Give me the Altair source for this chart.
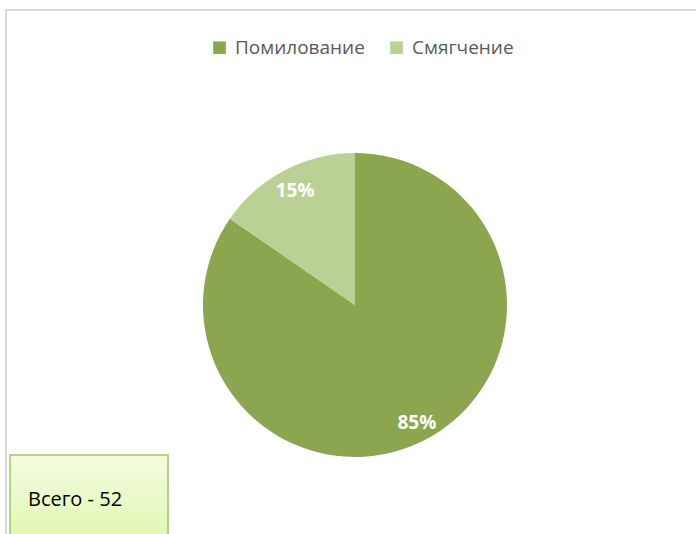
import altair as alt
import pandas as pd

categories = ["Помилование", "Смягчение"]
counts = [44, 8]
colors = ["#8ba64f", "#bbd095"]
total_label = "Всего - " + str(sum(counts))

df = pd.DataFrame({"cat": categories, "count": counts, "idx": list(range(len(counts)))})

FONT = "Open Sans"

base = alt.Chart(df).transform_joinaggregate(total="sum(count)").transform_calculate(
    pct="datum.count / datum.total"
)

pie = base.mark_arc(radius=152, strokeWidth=0).encode(
    x=alt.value(355),
    y=alt.value(305),
    theta=alt.Theta("count:Q", stack=True),
    order=alt.Order("idx:Q"),
    color=alt.Color(
        "cat:N",
        scale=alt.Scale(domain=categories, range=colors),
        sort=categories,
        legend=alt.Legend(
            title=None,
            orient="none",
            legendX=210,
            legendY=38,
            direction="horizontal",
            symbolType="square",
            symbolSize=160,
            symbolStrokeWidth=0,
            labelFont=FONT,
            labelFontSize=19,
            labelColor="#595959",
            labelOffset=6,
            columnPadding=22,
            padding=0,
        ),
    ),
)

labels = base.mark_text(
    radius=131, font=FONT, fontSize=19, fontWeight="bold", color="white",
    align="center", baseline="middle",
).encode(
    x=alt.value(356),
    y=alt.value(307),
    theta=alt.Theta("count:Q", stack=True),
    order=alt.Order("idx:Q"),
    text=alt.Text("pct:Q", format=".0%"),
)

frame_top = alt.Chart(df).mark_rule(color="#d9d9d9", strokeWidth=2).encode(
    x=alt.value(5), x2=alt.value(700), y=alt.value(10)
)
frame_left = alt.Chart(df).mark_rule(color="#d9d9d9", strokeWidth=2).encode(
    x=alt.value(6), y=alt.value(9), y2=alt.value(540)
)

box_df = pd.DataFrame({"label": [total_label]})
box = alt.Chart(box_df).mark_rect(
    fill=alt.Gradient(
        gradient="linear",
        stops=[alt.GradientStop(color="#f3fce0", offset=0), alt.GradientStop(color="#dcf6a8", offset=1)],
        x1=0, x2=0, y1=0, y2=1,
    ),
    stroke="#a4c466",
    strokeWidth=1.5,
).encode(x=alt.value(10), x2=alt.value(168), y=alt.value(455), y2=alt.value(560))

box_text = alt.Chart(box_df).mark_text(
    font=FONT, fontSize=20, color="black", align="left", baseline="alphabetic"
).encode(x=alt.value(28), y=alt.value(506), text="label:N")

chart = alt.layer(frame_top, frame_left, pie, labels, box, box_text).properties(
    width=696, height=534, autosize=alt.AutoSizeParams(type="none"), padding=0,
    background="white",
).configure_view(stroke=None)

chart.save("out.html", embed_options={"renderer": "svg", "actions": False})
